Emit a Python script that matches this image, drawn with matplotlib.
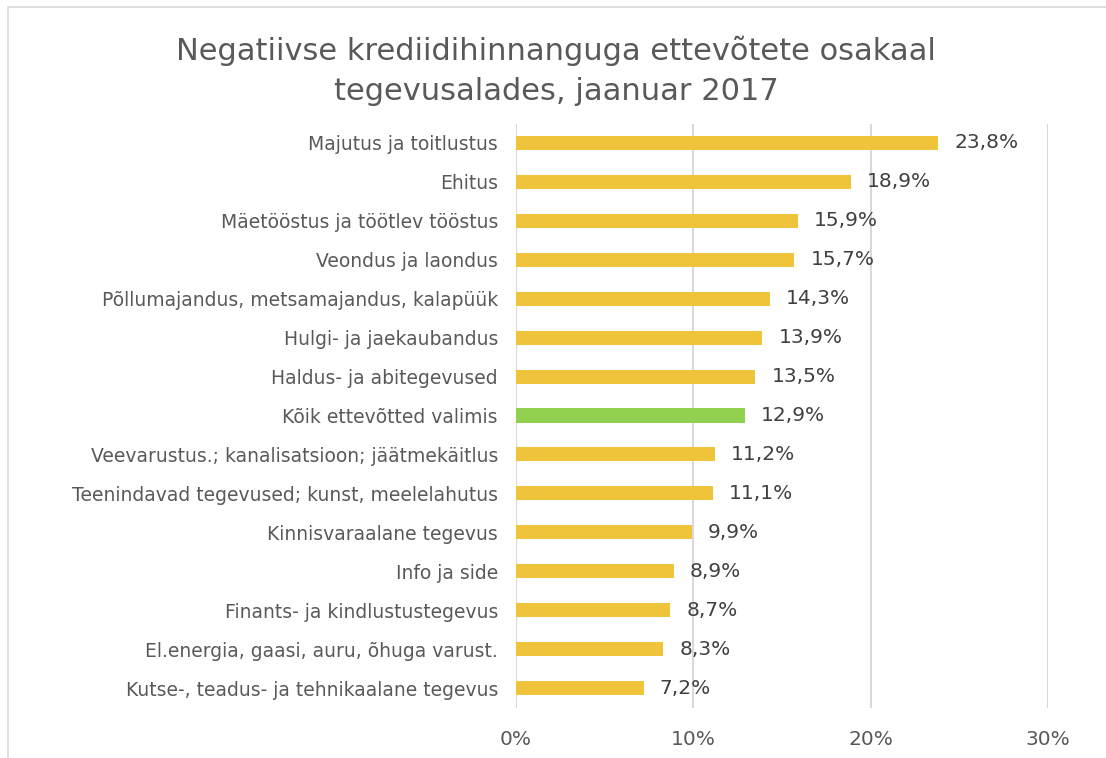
import matplotlib.pyplot as plt
from matplotlib.patches import Rectangle

plt.rcParams['font.family'] = ['DejaVu Sans']

# Andmed (ülevalt alla)
categories = [
    "Majutus ja toitlustus",
    "Ehitus",
    "Mäetööstus ja töötlev tööstus",
    "Veondus ja laondus",
    "Põllumajandus, metsamajandus, kalapüük",
    "Hulgi- ja jaekaubandus",
    "Haldus- ja abitegevused",
    "Kõik ettevõtted valimis",
    "Veevarustus.; kanalisatsioon; jäätmekäitlus",
    "Teenindavad tegevused; kunst, meelelahutus",
    "Kinnisvaraalane tegevus",
    "Info ja side",
    "Finants- ja kindlustustegevus",
    "El.energia, gaasi, auru, õhuga varust.",
    "Kutse-, teadus- ja tehnikaalane tegevus",
]
values = [23.8, 18.9, 15.9, 15.7, 14.3, 13.9, 13.5, 12.9, 11.2, 11.1, 9.9, 8.9, 8.7, 8.3, 7.2]
highlight = "Kõik ettevõtted valimis"

YELLOW = '#F0C43A'
GREEN = '#92D050'

fig = plt.figure(figsize=(11.06, 7.58), dpi=100)
# raam ümber diagrammi
fig.patches.append(Rectangle((8 / 1106, -0.05), 1.2, 1 - 7 / 758 + 0.05,
                             transform=fig.transFigure, fill=False,
                             edgecolor='#D9D9D9', linewidth=1.2))

ax = fig.add_axes([516 / 1106, 1 - 707.5 / 758, 532 / 1106, (707.5 - 123.5) / 758])

y = list(range(len(categories)))
colors = [GREEN if c == highlight else YELLOW for c in categories]
ax.barh(y, values, height=0.36, color=colors, zorder=3)

for yi, v in zip(y, values):
    ax.text(v + 0.9, yi, f"{v:.1f}%".replace('.', ','), va='center', ha='left',
            fontsize=14.5, color='#404040')

ax.set_xlim(0, 30)
ax.set_ylim(len(categories) - 0.5, -0.5)
ax.set_xticks([0, 10, 20, 30])
ax.set_xticklabels(['0%', '10%', '20%', '30%'], fontsize=14.5, color='#595959')
ax.set_yticks(y)
ax.set_yticklabels(categories, fontsize=13.5, color='#595959')
ax.tick_params(axis='both', length=0)
ax.tick_params(axis='y', pad=13)
ax.tick_params(axis='x', pad=16)
ax.grid(axis='x', color='#D9D9D9', linewidth=1.5, zorder=0)
for s in ax.spines.values():
    s.set_visible(False)

fig.text(556 / 1106, 1 - 71 / 758,
         "Negatiivse krediidihinnanguga ettevõtete osakaal\ntegevusalades, jaanuar 2017",
         ha='center', va='center', fontsize=22, color='#595959', linespacing=1.5)

fig.savefig('out.png', dpi=100)
